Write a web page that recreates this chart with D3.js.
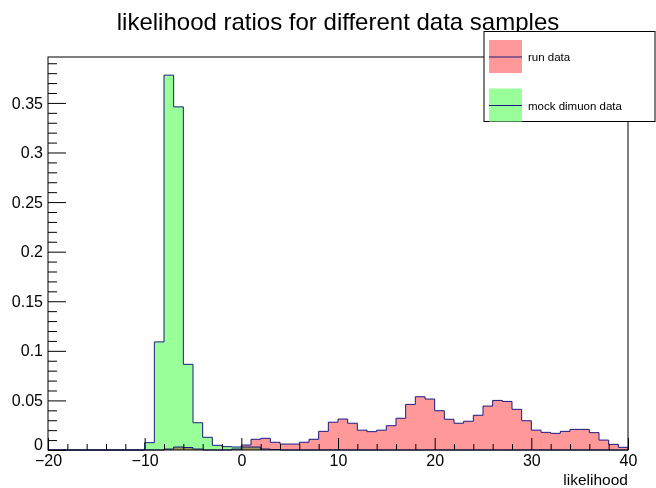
<!DOCTYPE html>
<html>
<head>
<meta charset="utf-8">
<script src="https://cdn.jsdelivr.net/npm/d3@7"></script>
<style>
  body { margin: 0; background: #fff; }
  svg { font-family: "Liberation Sans", Arial, Helvetica, sans-serif; }
</style>
</head>
<body>
<div id="chart"></div>
<script>
// bin lower edges, one unit wide
var binLow = [-20,-19,-18,-17,-16,-15,-14,-13,-12,-11,-10,-9,-8,-7,-6,-5,-4,-3,-2,-1,
              0,1,2,3,4,5,6,7,8,9,10,11,12,13,14,15,16,17,18,19,
              20,21,22,23,24,25,26,27,28,29,30,31,32,33,34,35,36,37,38,39];

var runData = [0,0,0,0,0,0,0,0,0,0,0,0,0.001,0.003,0.0025,0.001,0,0,0,0.001,
               0.005,0.0108,0.0118,0.0078,0.006,0.006,0.0078,0.0108,0.0188,0.028,0.0312,0.027,0.020,0.0185,0.020,0.0245,0.032,0.046,0.0537,0.0514,
               0.0396,0.031,0.027,0.029,0.035,0.0443,0.050,0.049,0.041,0.0295,0.020,0.0178,0.0168,0.0188,0.0208,0.0208,0.0175,0.010,0.0057,0.0027];

var mockData = [0,0,0,0,0,0,0,0,0,0,0.0074,0.109,0.378,0.346,0.0864,0.0275,0.0128,0.0047,0.0034,0.003,
                0.003,0.003,0.001,0.0005,0,0,0,0,0,0,0,0,0,0,0,0,0,0,0,0,
                0,0,0,0,0,0,0,0,0,0,0,0,0,0,0,0,0,0,0,0];

var xMajor = [-20,-10,0,10,20,30,40];
var xMinor = [-18,-16,-14,-12,-8,-6,-4,-2,2,4,6,8,12,14,16,18,22,24,26,28,32,34,36,38];
var yMajor = [0,0.05,0.1,0.15,0.2,0.25,0.3,0.35];
var yMinor = [0.01,0.02,0.03,0.04,0.06,0.07,0.08,0.09,0.11,0.12,0.13,0.14,0.16,0.17,0.18,0.19,
              0.21,0.22,0.23,0.24,0.26,0.27,0.28,0.29,0.31,0.32,0.33,0.34,0.36,0.37,0.38,0.39];

var series = [
  {name: "run data", values: runData, fill: "#ff9999"},
  {name: "mock dimuon data", values: mockData, fill: "#99ff99"}
];

var W = 656, H = 488;
var frame = {left: 48, right: 628, top: 57, bottom: 450};

var x = d3.scaleLinear().domain([-20, 40]).range([frame.left, frame.right]);
var y = d3.scaleLinear().domain([0, 0.3963]).range([frame.bottom, frame.top]);

var svg = d3.select("#chart").append("svg")
  .attr("width", W)
  .attr("height", H);

// histogram outline as a step polygon
function histPoints(values) {
  var pts = [[binLow[0], 0]];
  for (var i = 0; i < values.length; i++) {
    pts.push([binLow[i], values[i]]);
    pts.push([binLow[i] + 1, values[i]]);
  }
  pts.push([binLow[binLow.length - 1] + 1, 0]);
  return pts;
}

var line = d3.line()
  .x(function(d) { return x(d[0]); })
  .y(function(d) { return y(d[1]); });

var hists = svg.append("g").style("isolation", "isolate");
series.forEach(function(s) {
  hists.append("path")
    .attr("d", line(histPoints(s.values)) + "Z")
    .attr("fill", s.fill)
    .style("mix-blend-mode", "multiply")
    .attr("stroke", "none");
});
series.forEach(function(s) {
  hists.append("path")
    .attr("d", line(histPoints(s.values)))
    .attr("fill", "none")
    .attr("stroke", "#1a1a80")
    .attr("stroke-width", 1);
});

// frame
svg.append("rect")
  .attr("x", frame.left).attr("y", frame.top)
  .attr("width", frame.right - frame.left)
  .attr("height", frame.bottom - frame.top)
  .attr("fill", "none")
  .attr("stroke", "#000")
  .attr("stroke-width", 1);

// x axis
var gx = svg.append("g").attr("transform", "translate(0," + frame.bottom + ")");
gx.call(d3.axisBottom(x).tickValues(xMajor).tickSize(-12).tickPadding(5).tickSizeOuter(0));
gx.append("g").call(d3.axisBottom(x).tickValues(xMinor).tickSize(-6).tickFormat("").tickSizeOuter(0));

// y axis
var gy = svg.append("g").attr("transform", "translate(" + frame.left + ",0)");
gy.call(d3.axisLeft(y).tickValues(yMajor).tickSize(-18).tickPadding(5).tickSizeOuter(0)
  .tickFormat(function(d) { return d === 0 ? "0" : d3.format("~g")(d); }));
gy.append("g").call(d3.axisLeft(y).tickValues(yMinor).tickSize(-9).tickFormat("").tickSizeOuter(0));

svg.selectAll(".domain").remove();
svg.selectAll(".tick line").attr("stroke", "#000");
svg.selectAll(".tick text").attr("font-size", 16).attr("fill", "#000")
  .style("font-family", "'Liberation Sans', Arial, sans-serif");
// nudge the y "0" up a little like ROOT does
gy.selectAll(".tick text").filter(function(d) { return d === 0; }).attr("dy", "-0.05em");

// axis title
svg.append("text")
  .attr("x", frame.right)
  .attr("y", 485)
  .attr("text-anchor", "end")
  .attr("font-size", 15.5)
  .text("likelihood");

// title
svg.append("text")
  .attr("x", 338)
  .attr("y", 30)
  .attr("text-anchor", "middle")
  .attr("font-size", 24)
  .text("likelihood ratios for different data samples");

// legend
var leg = svg.append("g");
leg.append("rect")
  .attr("x", 484).attr("y", 31.5)
  .attr("width", 171).attr("height", 90)
  .attr("fill", "#fff")
  .attr("stroke", "#000");

series.forEach(function(s, i) {
  var cy = 57 + i * 48.5;
  leg.append("rect")
    .attr("x", 489).attr("y", cy - 17)
    .attr("width", 33).attr("height", 33)
    .attr("fill", s.fill);
  leg.append("line")
    .attr("x1", 489).attr("x2", 522)
    .attr("y1", cy).attr("y2", cy)
    .attr("stroke", "#1a1a80");
  leg.append("text")
    .attr("x", 528).attr("y", cy + 4)
    .attr("font-size", 11.5)
    .text(s.name);
});
</script>
</body>
</html>
